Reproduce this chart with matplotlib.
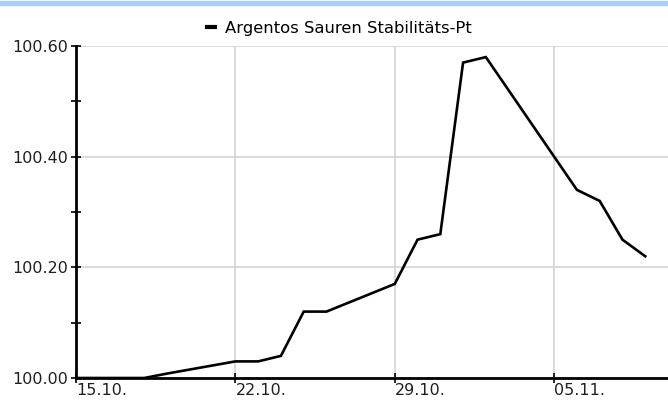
import matplotlib
matplotlib.use("Agg")
import matplotlib.pyplot as plt
import matplotlib.dates as mdates
import numpy as np
from datetime import datetime

# fund price, business days Oct/Nov 2018
dates = ["2018-10-15", "2018-10-16", "2018-10-17", "2018-10-18", "2018-10-19",
         "2018-10-22", "2018-10-23", "2018-10-24", "2018-10-25", "2018-10-26",
         "2018-10-29", "2018-10-30", "2018-10-31", "2018-11-01", "2018-11-02",
         "2018-11-05", "2018-11-06", "2018-11-07", "2018-11-08", "2018-11-09"]
prices = [100.00, 100.00, 100.00, 100.00, 100.008,
          100.03, 100.03, 100.04, 100.12, 100.12,
          100.17, 100.25, 100.26, 100.57, 100.58,
          100.40, 100.34, 100.32, 100.25, 100.22]
series_name = "Argentos Sauren Stabilitäts-Pt"
x_ticks = ["2018-10-15", "2018-10-22", "2018-10-29", "2018-11-05"]
y_ticks = [100.00, 100.20, 100.40, 100.60]

plt.rcParams['font.family'] = ['DejaVu Sans']

x = [datetime.strptime(d, "%Y-%m-%d") for d in dates]
xt = [datetime.strptime(d, "%Y-%m-%d") for d in x_ticks]

fig = plt.figure(figsize=(6.68, 4.0), dpi=100)
ax = fig.add_axes([76 / 668, 22 / 400, 592 / 668, 332 / 400])

# light blue band on top of the image
fig.patches.append(plt.Rectangle((0, 395 / 400), 1, 4 / 400, transform=fig.transFigure,
                                 color='#a9cff5', zorder=0))

ax.plot(x, prices, color='black', linewidth=1.9, solid_joinstyle='miter', zorder=3)

ax.set_xlim(datetime(2018, 10, 15), datetime(2018, 11, 10, 0))
ax.set_ylim(100.0, 100.6)

ax.set_xticks(xt)
ax.xaxis.set_major_formatter(mdates.DateFormatter("%d.%m."))
ax.set_yticks(y_ticks)
ax.set_yticks([100.1, 100.3, 100.5], minor=True)
ax.yaxis.set_major_formatter(matplotlib.ticker.FormatStrFormatter("%.2f"))

for lab in ax.get_xticklabels():
    lab.set_horizontalalignment('left')

ax.tick_params(axis='both', which='both', direction='inout', length=7, width=1.2,
               labelsize=11.5, color='black', labelcolor='#202020')
ax.tick_params(axis='x', pad=0)
ax.tick_params(axis='y', pad=2)

ax.grid(True, which='major', color='#d4d4d4', linewidth=1.2)
ax.set_axisbelow(True)

for side in ['top', 'right']:
    ax.spines[side].set_visible(False)
for side in ['left', 'bottom']:
    ax.spines[side].set_linewidth(2.0)
    ax.spines[side].set_zorder(4)

# legend on top, centred
leg = ax.legend([series_name], loc='lower center', bbox_to_anchor=(0.445, 1.0),
                frameon=False, fontsize=11.8, handlelength=0.5, handletextpad=0.6,
                borderaxespad=0.2)
for h in leg.get_lines():
    h.set_linewidth(3)

fig.savefig("out.png", dpi=100)
